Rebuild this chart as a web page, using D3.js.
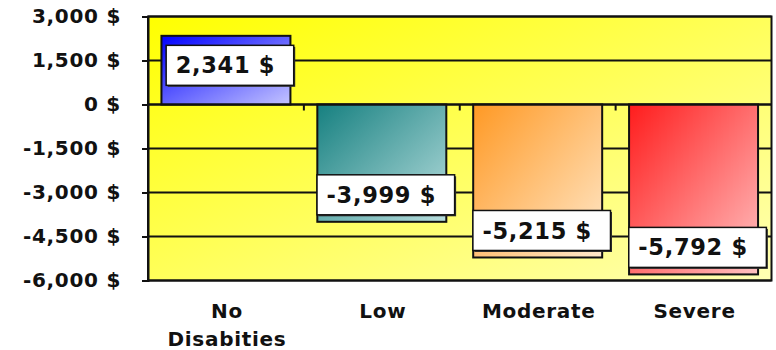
<!DOCTYPE html>
<html>
<head>
<meta charset="utf-8">
<script src="https://cdn.jsdelivr.net/npm/d3@7"></script>
<style>
  html, body { margin: 0; padding: 0; background: #ffffff; }
  svg { display: block; }
  text { font-family: "DejaVu Sans", Verdana, sans-serif; font-weight: bold; fill: #111; letter-spacing: 0.7px; }
</style>
</head>
<body>
<svg id="chart" width="776" height="350"></svg>
<script>
// ---- data ----
const categories = ["No Disabities", "Low", "Moderate", "Severe"];
const values = [2341, -3999, -5215, -5792];
const yTicks = [3000, 1500, 0, -1500, -3000, -4500, -6000];
const barColorsStart = ["#0000ff", "#168080", "#ff9924", "#ff1c1c"];
const barColorsEnd = ["#c4c4ff", "#b8dede", "#ffe9cc", "#ffc2c2"];

// ---- layout ----
const plot = { left: 148, right: 771.5, top: 16.5, bottom: 280.5 };
const svg = d3.select("#chart");
const defs = svg.append("defs");

const locale = d3.formatLocale({ decimal: ".", thousands: ",", grouping: [3], currency: ["", "$"], minus: "-" });
const fmt = v => locale.format(",")(v) + " $";

const x = d3.scaleBand().domain(categories).range([plot.left, plot.right])
  .paddingInner(0.1725).paddingOuter(0.08625);
const y = d3.scaleLinear().domain([-6000, 3000]).range([plot.bottom, plot.top]);

// background gradient
const bg = defs.append("linearGradient").attr("id", "bgGrad")
  .attr("x1", 0).attr("y1", 0).attr("x2", 1).attr("y2", 1);
bg.append("stop").attr("offset", "0%").attr("stop-color", "#ffff00");
bg.append("stop").attr("offset", "100%").attr("stop-color", "#ffffb4");

categories.forEach((c, i) => {
  const g = defs.append("linearGradient").attr("id", "barGrad" + i)
    .attr("x1", 0).attr("y1", 0).attr("x2", 1).attr("y2", 1);
  g.append("stop").attr("offset", "0%").attr("stop-color", barColorsStart[i]);
  g.append("stop").attr("offset", "100%").attr("stop-color", barColorsEnd[i]);
});

svg.append("rect")
  .attr("x", plot.left).attr("y", plot.top)
  .attr("width", plot.right - plot.left).attr("height", plot.bottom - plot.top)
  .attr("fill", "url(#bgGrad)");

// gridlines
svg.append("g").attr("class", "grid")
  .selectAll("line").data(yTicks).join("line")
  .attr("x1", plot.left).attr("x2", plot.right)
  .attr("y1", d => y(d)).attr("y2", d => y(d))
  .attr("stroke", "#111").attr("stroke-width", 2);

// bars
const data = categories.map((c, i) => ({ c, v: values[i], i }));
svg.append("g").selectAll("rect").data(data).join("rect")
  .attr("x", d => x(d.c))
  .attr("width", x.bandwidth())
  .attr("y", d => Math.min(y(d.v), y(0)))
  .attr("height", d => Math.abs(y(d.v) - y(0)))
  .attr("fill", d => "url(#barGrad" + d.i + ")")
  .attr("stroke", "#111").attr("stroke-width", 2);

// zero line & category ticks
svg.append("line")
  .attr("x1", plot.left).attr("x2", plot.right)
  .attr("y1", y(0)).attr("y2", y(0))
  .attr("stroke", "#111").attr("stroke-width", 2);
const step = x.step();
svg.append("g").selectAll("line").data(d3.range(1, categories.length)).join("line")
  .attr("x1", i => plot.left + i * step).attr("x2", i => plot.left + i * step)
  .attr("y1", y(0)).attr("y2", y(0) + 6)
  .attr("stroke", "#111").attr("stroke-width", 2);

// plot border
svg.append("rect")
  .attr("x", plot.left).attr("y", plot.top)
  .attr("width", plot.right - plot.left).attr("height", plot.bottom - plot.top)
  .attr("fill", "none").attr("stroke", "#111").attr("stroke-width", 2);

// y axis
const yAxis = d3.axisLeft(y).tickValues(yTicks).tickSize(6).tickPadding(21).tickFormat(fmt);
const ya = svg.append("g").attr("transform", `translate(${plot.left},0)`).call(yAxis);
ya.select(".domain").attr("stroke", "#111").attr("stroke-width", 2);
ya.selectAll(".tick line").attr("stroke", "#111").attr("stroke-width", 2);
ya.selectAll(".tick text").attr("font-size", 20).attr("font-family", null).attr("fill", "#111");

// x category labels (wrapped)
const xl = svg.append("g");
data.forEach(d => {
  const cx = x(d.c) + x.bandwidth() / 2 + 1;
  const t = xl.append("text")
    .attr("x", cx)
    .attr("y", 318)
    .attr("text-anchor", "middle")
    .attr("font-size", 20)
    .text(d.c);
  if (t.node().getComputedTextLength() > x.bandwidth()) {
    const words = d.c.split(" ");
    t.text(null);
    words.forEach((w, k) => {
      t.append("tspan").attr("x", cx)
        .attr("dy", k === 0 ? 0 : 27.7).text(w);
    });
  }
});

// value labels
const lg = svg.append("g");
data.forEach(d => {
  const cx = x(d.c) + x.bandwidth() / 2 + 4;
  const end = y(d.v);
  const cy = d.v >= 0 ? end + 29.5 : end - 27;
  const g = lg.append("g");
  const t = g.append("text").attr("font-size", 22.5).text(fmt(d.v));
  const tw = t.node().getComputedTextLength();
  const bw = tw + 28, bh = 40;
  const bx = cx - bw / 2, by = cy - bh / 2;
  g.insert("rect", "text").attr("x", bx + 1.5).attr("y", by + 1.5).attr("width", bw).attr("height", bh)
    .attr("fill", "#333");
  g.insert("rect", "text").attr("x", bx).attr("y", by).attr("width", bw).attr("height", bh)
    .attr("fill", "#ffffff").attr("stroke", "#111").attr("stroke-width", 1.5);
  t.attr("x", bx + 9.5).attr("y", cy).attr("dy", "0.36em");
});
</script>
</body>
</html>
